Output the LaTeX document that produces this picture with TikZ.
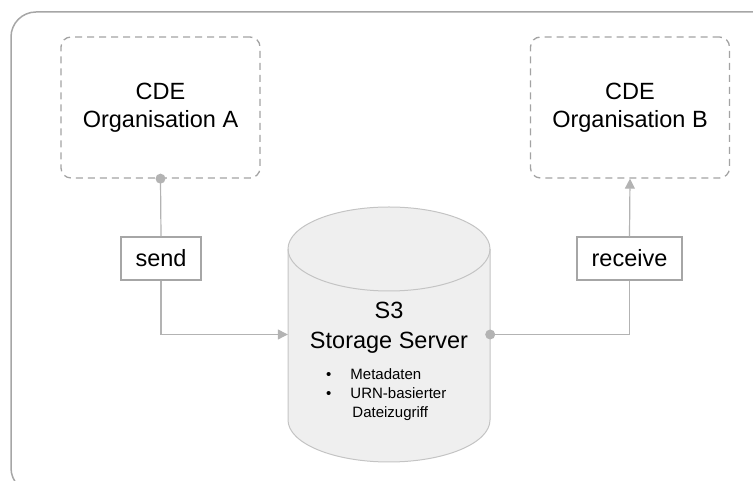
\documentclass[tikz,border=0pt]{standalone}
\usepackage{fontspec}
\setmainfont{Liberation Sans}
\usepackage{color}
\usetikzlibrary{arrows.meta}
\definecolor{framegray}{HTML}{A6A6A6}
\definecolor{dashgray}{HTML}{A3A3A3}
\definecolor{linegray}{HTML}{B3B3B3}
\definecolor{cylfill}{HTML}{EFEFEF}
\definecolor{cylline}{HTML}{C4C4C4}
\begin{document}
\begin{tikzpicture}
        [%%%%%%%%%%%%%%%%%%%%%%%%%%%%%%
        x=1pt, y=1pt,
        orgbox/.style={draw=dashgray, line width=1.3pt, dash pattern=on 7pt off 5pt,
          rounded corners=10pt, minimum width=199pt, minimum height=141pt,
          align=center, font=\fontsize{23.5}{28}\selectfont},
        tagbox/.style={draw=framegray, fill=white, line width=1.3pt, minimum height=43pt,
          inner sep=0pt, font=\fontsize{23.5}{28}\selectfont},
        conn/.style={draw=linegray, line width=1.2pt},
        dot/.style={fill=linegray},
        ]%%%%%%%%%%%%%%%%%%%%%%%%%%%%%%
        \useasboundingbox (0,0) rectangle (753,481);
        % Outer frame
        \draw[framegray, line width=1.5pt, rounded corners=25pt] (11,-12) rectangle (780,469);
        % Organisations
        \node[orgbox] (orgA) at (160.5,373.5) {CDE\\Organisation A};
        \node[orgbox] (orgB) at (630,373.5) {CDE\\Organisation B};
        % Storage cylinder
        \node[minimum width=202pt, minimum height=255pt, inner sep=0pt] (srv) at (389,146.5) {};
        \filldraw[draw=cylline, fill=cylfill, line width=1pt]
          (288,232) -- (288,61) arc[start angle=180, end angle=360, x radius=101pt, y radius=42pt]
          -- (490,232) arc[start angle=0, end angle=180, x radius=101pt, y radius=42pt] -- cycle;
        \draw[cylline, line width=1pt] (288,232) arc[start angle=180, end angle=360, x radius=101pt, y radius=42pt];
        \node[align=center, font=\fontsize{23.5}{30}\selectfont] (srvtitle) at (389,153) {S3\\Storage Server};
        \node[anchor=base west, inner sep=0pt, font=\fontsize{15}{19}\selectfont] (srvlist) at (326,101)
          {\begin{tabular}[t]{@{}l@{\hspace{19pt}}l@{}}
            \textbullet & Metadaten\\
            \textbullet & URN-basierter\\
                        & \hspace{2pt}Dateizugriff
          \end{tabular}};
        % Labels
        \node[tagbox, minimum width=80pt] (send) at (161,222.5) {send};
        \node[tagbox, minimum width=105pt] (receive) at (629.5,222.5) {receive};
        % Connectors
        \draw[conn] (orgA.south) -- (send.north);
        \draw[conn, -{Triangle[length=10pt,width=10pt]}] (send.south) |- (srv.west);
        \draw[conn] (srv.east) -| (receive.south);
        \draw[conn, -{Triangle[length=10pt,width=10pt]}] (receive.north) -- (orgB.south);
        \fill[dot] (orgA.south) circle (5pt);
        \fill[dot] (srv.east) circle (5pt);
      \end{tikzpicture}
\end{document}
